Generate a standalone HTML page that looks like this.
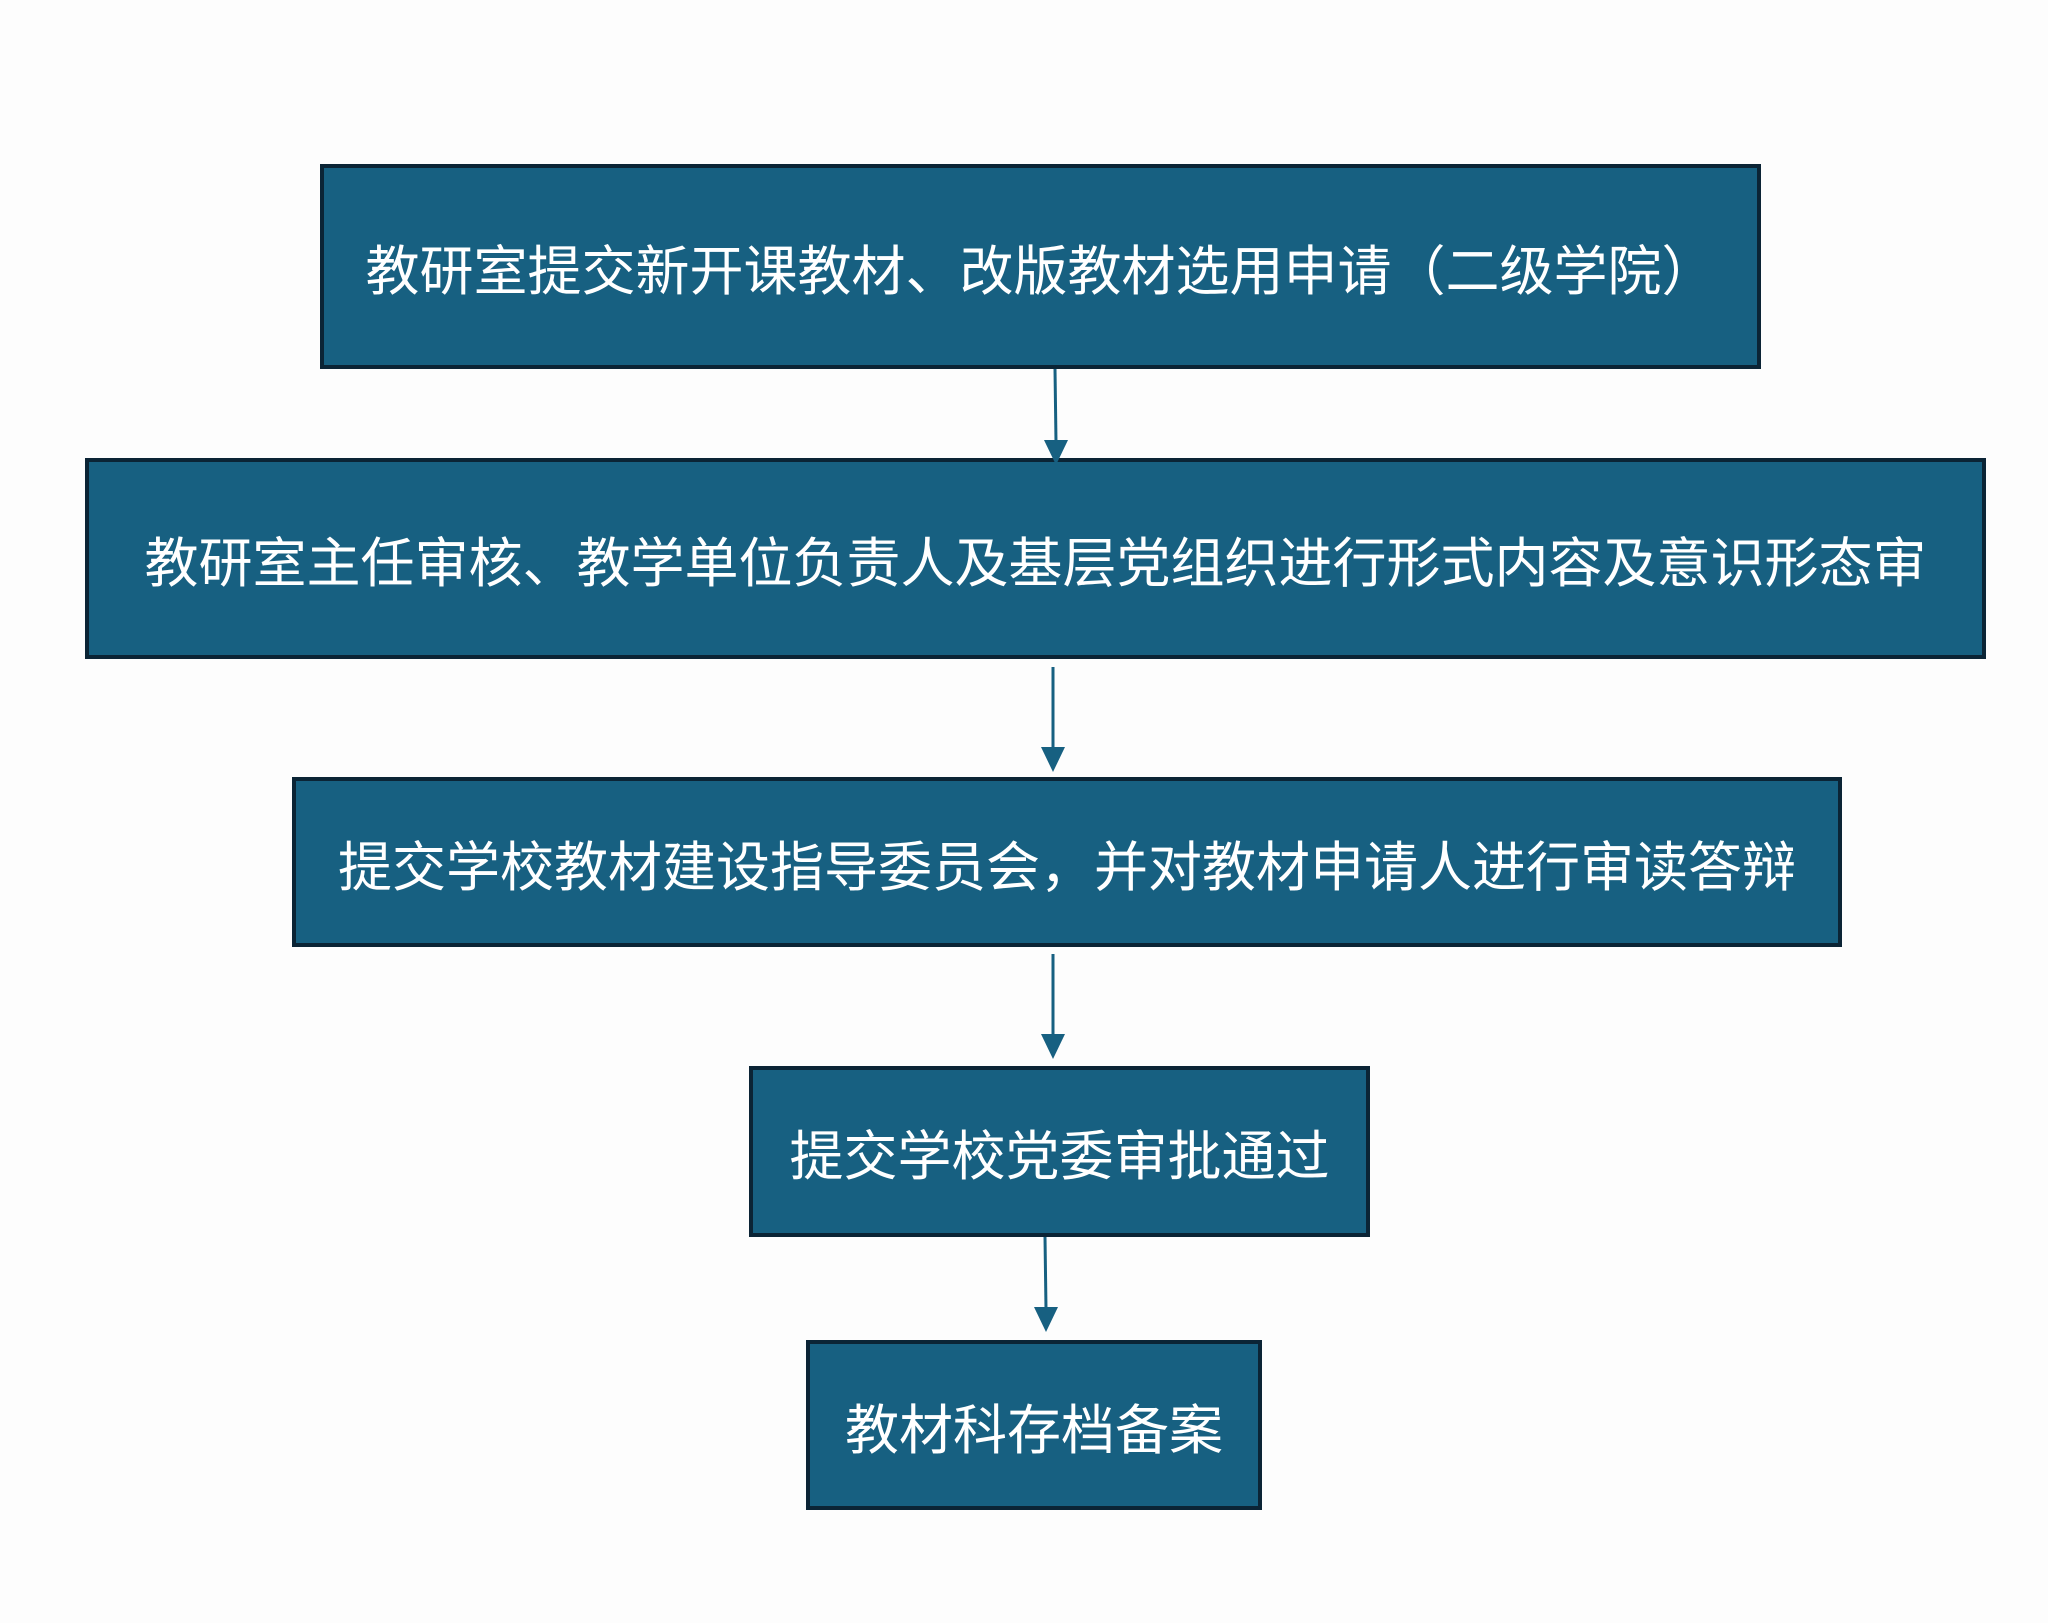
<!DOCTYPE html>
<html><head><meta charset="utf-8"><style>
html,body{margin:0;padding:0;background:#fdfdfd;}
body{width:2048px;height:1623px;position:relative;overflow:hidden;font-family:"Liberation Sans","Noto Sans CJK SC",sans-serif;}
.b{position:absolute;box-sizing:border-box;background:#176081;border:4px solid #0b2435;color:#fff;font-size:54px;display:flex;align-items:center;justify-content:center;white-space:nowrap;}
svg{position:absolute;left:0;top:0;}
</style></head><body>
<div class="b" style="left:320px;top:164px;width:1441px;height:205px;">教研室提交新开课教材、改版教材选用申请（二级学院）</div>
<div class="b" style="left:85px;top:458px;width:1901px;height:201px;">教研室主任审核、教学单位负责人及基层党组织进行形式内容及意识形态审</div>
<div class="b" style="left:292px;top:777px;width:1550px;height:170px;">提交学校教材建设指导委员会，并对教材申请人进行审读答辩</div>
<div class="b" style="left:749px;top:1066px;width:621px;height:171px;">提交学校党委审批通过</div>
<div class="b" style="left:806px;top:1340px;width:456px;height:170px;">教材科存档备案</div>
<svg width="2048" height="1623">
<g stroke="#176081" stroke-width="3" fill="#176081">
<line x1="1055" y1="369" x2="1056" y2="442"/><polygon points="1044,440 1068,440 1056,465" stroke="none"/>
<line x1="1053" y1="667" x2="1053" y2="749"/><polygon points="1041,747 1065,747 1053,772" stroke="none"/>
<line x1="1053" y1="954" x2="1053" y2="1036"/><polygon points="1041,1034 1065,1034 1053,1059" stroke="none"/>
<line x1="1045" y1="1237" x2="1046" y2="1309"/><polygon points="1034,1307 1058,1307 1046,1332" stroke="none"/>
</g>
</svg>
</body></html>
